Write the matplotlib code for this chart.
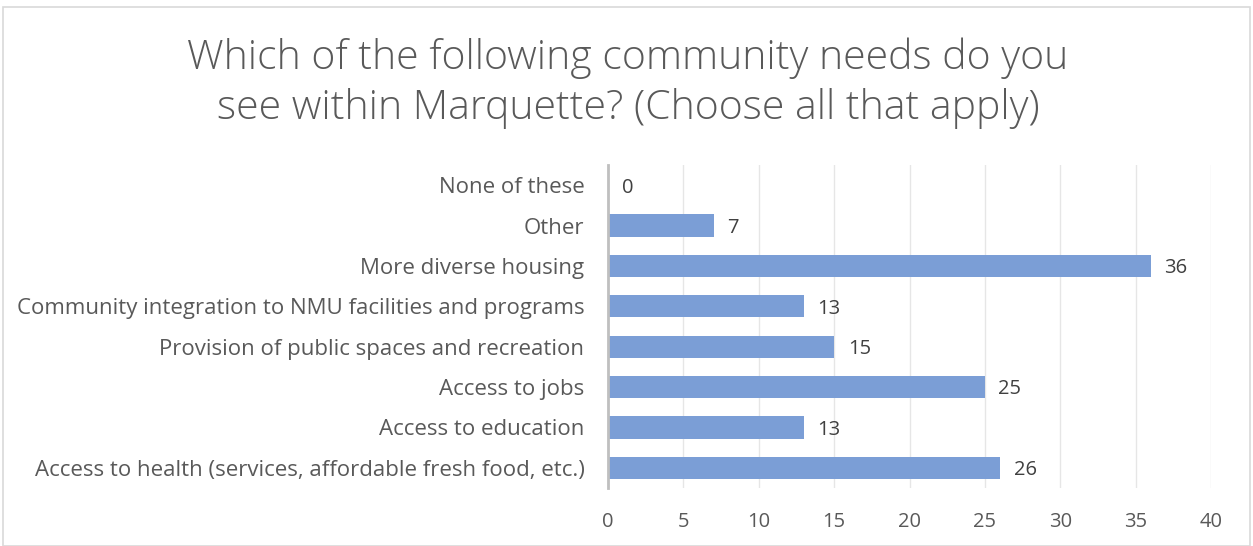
import matplotlib
matplotlib.use("Agg")
import matplotlib.pyplot as plt
from matplotlib.patches import Rectangle

categories = [
    "Access to health (services, affordable fresh food, etc.)",
    "Access to education",
    "Access to jobs",
    "Provision of public spaces and recreation",
    "Community integration to NMU facilities and programs",
    "More diverse housing",
    "Other",
    "None of these",
]
values = [26, 13, 25, 15, 13, 36, 7, 0]
xticks = [0, 5, 10, 15, 20, 25, 30, 35, 40]
title = "Which of the following community needs do you\nsee within Marquette? (Choose all that apply)"

plt.rcParams['font.family'] = ['Open Sans', 'DejaVu Sans']
W, H = 1253, 546
fig = plt.figure(figsize=(W / 100, H / 100), dpi=100)
fig.patch.set_facecolor("white")
fig.patches.append(Rectangle((3 / W, 0), (W - 6) / W, (H - 7) / H, transform=fig.transFigure,
                             fill=False, edgecolor="#D9D9D9", linewidth=1.2))

left, right, top, bottom = 608, 1211, 165, 488
ax = fig.add_axes([left / W, 1 - bottom / H, (right - left) / W, (bottom - top) / H])
txt = "#595959"
y = list(range(len(categories)))
ax.barh(y, values, height=0.55, color="#7B9ED6", zorder=3)
for yi, v in zip(y, values):
    ax.text(v + 0.9, yi - 0.06, str(v), va="center", ha="left", fontsize=14.5, color="#404040")
ax.set_xlim(0, 40)
ax.set_ylim(-0.5, len(categories) - 0.5)
ax.set_xticks(xticks)
ax.set_yticks(y)
ax.set_yticklabels(categories)
ax.tick_params(axis="both", length=0, colors=txt)
ax.tick_params(axis="y", pad=17, labelsize=16)
ax.tick_params(axis="x", pad=17, labelsize=14.5)
ax.grid(axis="x", color="#E6E6E6", linewidth=1, zorder=0)
for s in ["top", "right", "bottom"]:
    ax.spines[s].set_visible(False)
ax.spines["left"].set_color("#BFBFBF")
ax.spines["left"].set_linewidth(2)
ax.spines["left"].set_zorder(4)

fig.text(628 / W, 1 - 83 / H, title, ha="center", va="center", fontsize=29.5, color=txt,
         linespacing=1.3, fontweight="light")
fig.savefig("out.png", dpi=100)
